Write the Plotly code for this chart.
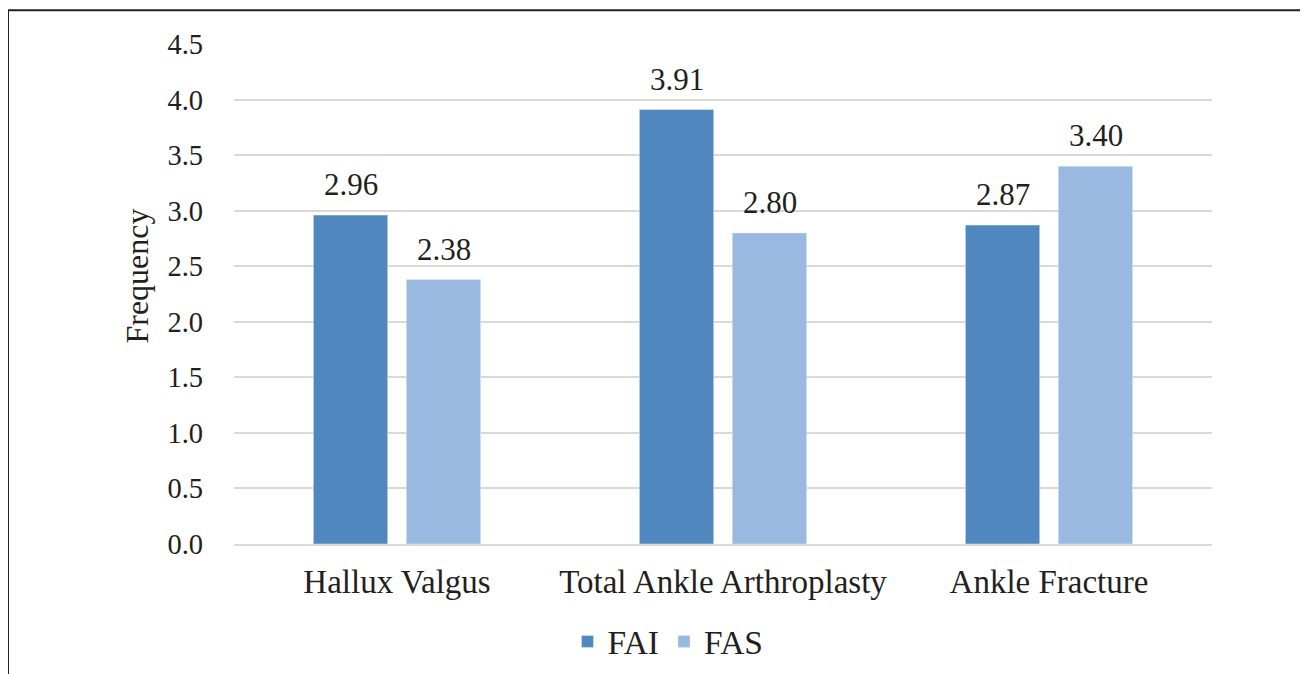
import plotly.graph_objects as go

categories = ["Hallux Valgus", "Total Ankle Arthroplasty", "Ankle Fracture"]
fai_values = [2.96, 3.91, 2.87]
fas_values = [2.38, 2.80, 3.40]
y_ticks = [0.0, 0.5, 1.0, 1.5, 2.0, 2.5, 3.0, 3.5, 4.0, 4.5]

FONT = "Liberation Serif"
TXT = "#231f20"
C_FAI = "#4f87be"
C_FAS = "#99b9e0"

OFF = 8  # page body margin in the browser
W, H = 1308, 674
# target plot area in screenshot pixels: x 234..1212, y 44..546
L, R, T, B = 234 - OFF, W - 1212 + OFF, 44 - OFF, H - 546 + OFF
PW, PH = W - L - R, H - T - B

fig = go.Figure()
fig.add_trace(go.Bar(name="FAI", x=categories, y=fai_values, marker_color=C_FAI))
fig.add_trace(go.Bar(name="FAS", x=categories, y=fas_values, marker_color=C_FAS))

# screenshot pixel -> paper coords
def px(x):
    return (x - 234) / PW

def py(y):
    return (546 - y) / PH

annotations = []
for vals, shift in ((fai_values, -46.5), (fas_values, 46.5)):
    for c, v in zip(categories, vals):
        annotations.append(dict(x=c, y=v, xref="x", yref="y", text=f"{v:.2f}",
                                showarrow=False, yanchor="bottom", xshift=shift, yshift=11,
                                font=dict(family=FONT, size=31, color=TXT)))
annotations.append(dict(x=px(137.5), y=py(277), xref="paper", yref="paper", text="Frequency",
                        textangle=-90, showarrow=False, xanchor="center", yanchor="middle",
                        font=dict(family=FONT, size=32, color=TXT)))

fig.update_layout(
    width=W, height=H,
    margin=dict(l=L, r=R, t=T, b=B),
    paper_bgcolor="white", plot_bgcolor="white",
    barmode="group", bargap=0.43, bargroupgap=0.2,
    font=dict(family=FONT, size=31, color=TXT),
    showlegend=True,
    legend=dict(orientation="h", x=px(668), xanchor="center", y=py(644), yanchor="middle",
                font=dict(family=FONT, size=33.5, color=TXT), itemwidth=30,
                traceorder="normal"),
    annotations=annotations,
    shapes=[dict(type="rect", xref="paper", yref="paper",
                 x0=px(8), x1=px(1330), y0=py(700), y1=py(10),
                 line=dict(color="#222222", width=2), fillcolor="rgba(0,0,0,0)", layer="above")],
    xaxis=dict(showline=True, linecolor="#d9d9d9", linewidth=2, ticks="",
               tickfont=dict(family=FONT, size=33, color=TXT), ticklabelstandoff=7),
    yaxis=dict(range=[0, 4.5], tickvals=y_ticks, ticktext=[f"{v:.1f}" for v in y_ticks],
               showgrid=True, gridcolor="#d9d9d9", gridwidth=2, zeroline=False,
               showline=False, ticks="", ticklabelstandoff=30,
               tickfont=dict(family=FONT, size=28.5, color=TXT)),
)

fig.write_html("out.html")
